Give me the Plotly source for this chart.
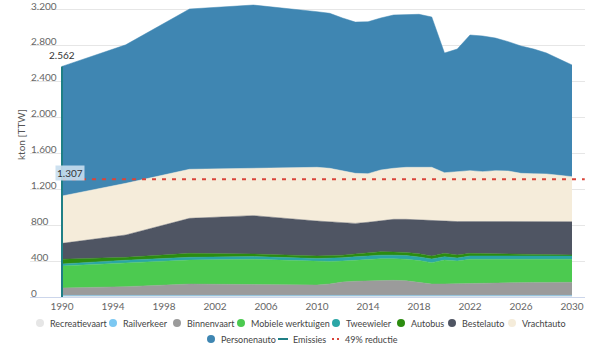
import plotly.graph_objects as go

W, H = 602, 348

jaren = [1990, 1995, 2000, 2005, 2010, 2011, 2012, 2013, 2014, 2015, 2016, 2017, 2018,
         2019, 2020, 2021, 2022, 2023, 2024, 2025, 2026, 2027, 2028, 2029, 2030]

recreatievaart = [8] * 25
railverkeer = [10] * 25
binnenvaart = [82, 97, 126, 122, 115, 127, 148, 157, 162, 163, 167, 162, 147,
               126, 127, 130, 137, 140, 142, 142, 143, 144, 144, 145, 145]
mobiele_werktuigen = [245, 266, 267, 279, 260, 250, 234, 235, 240, 244, 240, 240, 240,
                      237, 266, 252, 264, 262, 260, 260, 259, 258, 258, 257, 256]
tweewieler = [22, 28, 30, 30, 35, 35, 36, 37, 38, 40, 40, 40, 40,
              42, 37, 33, 37, 37, 37, 37, 37, 37, 37, 37, 37]
autobus = [53, 32, 44, 29, 28, 28, 29, 31, 34, 39, 35, 35, 35,
           33, 37, 34, 29, 26, 23, 21, 19, 17, 15, 13, 11]
bestelauto = [176, 248, 389, 426, 388, 377, 361, 340, 338, 344, 363, 368, 376,
              388, 355, 371, 353, 355, 358, 360, 362, 366, 368, 368, 370]
vrachtauto = [526, 574, 545, 526, 597, 595, 574, 556, 540, 563, 567, 578, 585,
              597, 541, 557, 566, 555, 566, 562, 536, 530, 527, 514, 500]
personenauto = [1440, 1539, 1781, 1814, 1729, 1722, 1700, 1681, 1688, 1689, 1703, 1699, 1700,
                1670, 1330, 1360, 1507, 1507, 1473, 1437, 1415, 1385, 1344, 1292, 1241]

emissies_jaar = [1990]
emissies_waarde = [2562]

reductie_jaren = [1990, 2031]
reductie_waarde = [1307, 1307]

y_tick_vals = [0, 400, 800, 1200, 1600, 2000, 2400, 2800, 3200]
y_tick_labels = ["0", "400", "800", "1.200", "1.600", "2.000", "2.400", "2.800", "3.200"]
x_tick_vals = [1990, 1994, 1998, 2002, 2006, 2010, 2014, 2018, 2022, 2026, 2030]

series = [
    ("Recreatievaart", recreatievaart, "#e6e6e6"),
    ("Railverkeer", railverkeer, "#7cc8f2"),
    ("Binnenvaart", binnenvaart, "#9b9b9b"),
    ("Mobiele werktuigen", mobiele_werktuigen, "#4cca50"),
    ("Tweewieler", tweewieler, "#2ba6a6"),
    ("Autobus", autobus, "#2c8c10"),
    ("Bestelauto", bestelauto, "#4f5563"),
    ("Vrachtauto", vrachtauto, "#f5ecda"),
    ("Personenauto", personenauto, "#3f86b2"),
]
EMIS_COLOR = "#1f7f85"
RED = "#d9443a"
FONT = "Lato"

fig = go.Figure()
for name, vals, col in series:
    fig.add_trace(go.Scatter(
        x=jaren, y=vals, name=name, mode="lines", stackgroup="one",
        line=dict(width=0.5, color=col), fillcolor=col, showlegend=False))

fig.add_trace(go.Scatter(
    x=reductie_jaren, y=reductie_waarde, mode="lines", name="49% reductie",
    line=dict(color=RED, width=2, dash="4px,6px"), showlegend=False))

fig.add_trace(go.Scatter(
    x=emissies_jaar * 2, y=[0, emissies_waarde[0]], mode="lines", name="Emissies",
    line=dict(color=EMIS_COLOR, width=2), showlegend=False))

# pixel helpers for layout placement (margins are zero -> paper == figure)
def px(x):
    return x / W

def py(y):
    return 1 - y / H

x_left_px, x_right_px = 30, 585
px_per_year = 12.75
x0 = 1990 - (62 - x_left_px) / px_per_year
x1 = 1990 + (x_right_px - 62) / px_per_year
y_bottom_px = 297
units_per_px = 400 / 36.0
y_top_val = y_bottom_px * units_per_px

fig.update_layout(
    width=W, height=H, margin=dict(l=0, r=0, t=0, b=0, pad=0),
    paper_bgcolor="white", plot_bgcolor="white",
    font=dict(family=FONT, size=10, color="#666666"),
    showlegend=False,
    xaxis=dict(domain=[px(x_left_px), px(x_right_px)], range=[x0, x1],
               tickvals=x_tick_vals, showgrid=False, zeroline=False,
               showline=True, linecolor="#ccd6eb", linewidth=1,
               ticks="", tickfont=dict(size=10, color="#666666", family=FONT)),
    yaxis=dict(domain=[py(y_bottom_px), 1], range=[0, y_top_val],
               tickvals=y_tick_vals, showticklabels=False,
               showgrid=True, gridcolor="#e6e6e6",
               gridwidth=1, zeroline=False, showline=False, ticks=""),
)

annotations = [
    dict(x=px(21), y=py(135), xref="paper", yref="paper", text="kton [TTW]",
         textangle=-90, xanchor="center", yanchor="middle", showarrow=False,
         font=dict(size=10, color="#555555", family=FONT)),
    dict(x=emissies_jaar[0], y=emissies_waarde[0], xref="x", yref="y",
         text=f"{emissies_waarde[0]:,}".replace(",", "."), showarrow=False,
         yshift=11, font=dict(size=10, color="#333333", family=FONT)),
    dict(x=reductie_jaren[0], y=reductie_waarde[0], xref="x", yref="y",
         text=f"{reductie_waarde[0]:,}".replace(",", "."), showarrow=False,
         xshift=8, yshift=6, bgcolor="rgba(200,222,238,0.9)", borderpad=1,
         font=dict(size=10, color="#333333", family=FONT)),
]

# y tick labels placed above the gridlines (Highcharts style)
for v, lab in zip(y_tick_vals, y_tick_labels):
    annotations.append(dict(x=px(x_left_px), y=v, xref="paper", yref="y", text=lab,
                            showarrow=False, xanchor="left", yanchor="middle",
                            yshift=(3 if v == y_tick_vals[-1] else 4), borderpad=0,
                            font=dict(size=10, color="#666666", family=FONT)))

# custom legend (Highcharts-like compact layout)
legend_rows = [
    (323, [("Recreatievaart", "#e6e6e6", "circle", 40),
           ("Railverkeer", "#7cc8f2", "circle", 113),
           ("Binnenvaart", "#9b9b9b", "circle", 177),
           ("Mobiele werktuigen", "#4cca50", "circle", 241),
           ("Tweewieler", "#2ba6a6", "circle", 336),
           ("Autobus", "#2c8c10", "circle", 401),
           ("Bestelauto", "#4f5563", "circle", 452),
           ("Vrachtauto", "#f5ecda", "circle", 512)]),
    (339, [("Personenauto", "#3f86b2", "circle", 211),
           ("Emissies", EMIS_COLOR, "line", 283),
           ("49% reductie", RED, "dots", 335)]),
]
shapes = []
for yrow, items in legend_rows:
    for name, col, kind, cx in items:
        if kind == "circle":
            shapes.append(dict(type="circle", xref="paper", yref="paper",
                               x0=px(cx - 4), x1=px(cx + 4), y0=py(yrow + 4), y1=py(yrow - 4),
                               fillcolor=col, line=dict(width=0)))
        elif kind == "line":
            shapes.append(dict(type="line", xref="paper", yref="paper",
                               x0=px(cx - 5), x1=px(cx + 5), y0=py(yrow), y1=py(yrow),
                               line=dict(color=col, width=2)))
        else:
            for dx in (-3, 2):
                shapes.append(dict(type="rect", xref="paper", yref="paper",
                                   x0=px(cx + dx), x1=px(cx + dx + 2), y0=py(yrow + 1), y1=py(yrow - 1),
                                   fillcolor=col, line=dict(width=0)))
        annotations.append(dict(x=px(cx + 8), y=py(yrow), xref="paper", yref="paper",
                                text=name, showarrow=False, xanchor="left", yanchor="middle",
                                font=dict(size=9, color="#444444", family=FONT)))

fig.update_layout(annotations=annotations, shapes=shapes)
fig.write_html("out.html")
